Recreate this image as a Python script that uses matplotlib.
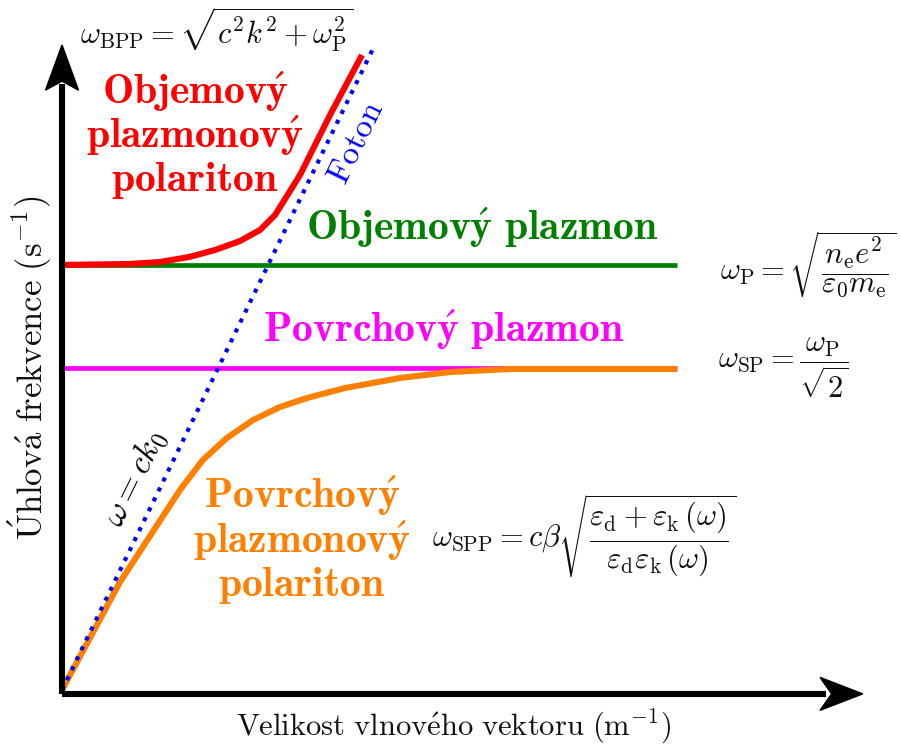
import matplotlib
matplotlib.use("Agg")
import matplotlib.pyplot as plt
from matplotlib.patches import Polygon
import numpy as np

plt.rcParams['mathtext.fontset'] = 'cm'
plt.rcParams['font.family'] = ['DejaVu Serif']

# ---- data (arbitrary units: k in [0,1], omega in [0,1]) ----
omega_p = 0.659          # bulk plasma frequency level
omega_sp = 0.500         # surface plasmon level
k_end = 0.769            # right end of horizontal lines
photon_k = [0.0, 0.391]
photon_w = [0.0, 1.0]
bpp_k = [0.0, 0.085, 0.1225, 0.1588, 0.1913, 0.2225, 0.2475, 0.2663, 0.2975, 0.335, 0.375]
bpp_w = [0.659, 0.6605, 0.6636, 0.6713, 0.6822, 0.6961, 0.7132, 0.7364, 0.7984, 0.8915, 0.9845]
spp_k = [0.0, 0.0725, 0.1475, 0.176, 0.206, 0.2388, 0.2725, 0.3063, 0.3538, 0.4225, 0.485, 0.56, 0.769]
spp_w = [0.0, 0.1674, 0.3101, 0.3566, 0.3907, 0.4186, 0.4388, 0.4527, 0.4682, 0.4837, 0.4930, 0.4977, 0.4977]

W, H = 900, 747
fig = plt.figure(figsize=(W / 100, H / 100), dpi=100)
ax = fig.add_axes([0, 0, 1, 1])
# data origin at pixel (62, 690), (1,1) at pixel (862, 45)
x0, y0, sx, sy = 62, 690, 800, 645
ax.set_xlim(-x0 / sx, (W - x0) / sx)
ax.set_ylim((y0 - H) / sy, y0 / sy)
ax.axis('off')

def P(x, y):
    return (x / W, 1 - y / H)

# axes arrows
ya = -0.006
ax.plot([0, 0], [ya, 0.94], color='black', lw=4.4, solid_capstyle='butt', zorder=5)
ax.plot([0, 0.955], [ya, ya], color='black', lw=4.4, solid_capstyle='butt', zorder=5)
hw_x, hw_y = 16.5 / sx, 16.5 / sy
ax.add_patch(Polygon([(0, 1.0), (hw_x, 0.930), (0, 0.944), (-hw_x, 0.930)],
                     closed=True, color='black', zorder=6))
ax.add_patch(Polygon([(1.001, ya), (0.9475, ya + hw_y), (0.962, ya), (0.9475, ya - hw_y)],
                     closed=True, color='black', zorder=6))

# curves
ax.plot([0, k_end], [omega_p, omega_p], color='#008000', lw=3.4, solid_capstyle='butt', zorder=2)
ax.plot([0, k_end], [omega_sp, omega_sp], color='#ff00ff', lw=3.4, solid_capstyle='butt', zorder=2)
ax.plot(spp_k, spp_w, color='#ff8000', lw=4.4, solid_capstyle='butt', solid_joinstyle='miter', zorder=3)
ax.plot(bpp_k, bpp_w, color='#ff0000', lw=4.4, solid_capstyle='butt', solid_joinstyle='miter', zorder=3)
ax.plot(photon_k, photon_w, color='#0000ff', lw=3.0, ls=':', dash_capstyle='butt', zorder=4)

# labels
fs_big = 30
fig.text(*P(195, 135), '$\\mathbf{Objemov\\acute{y}}$\n$\\mathbf{plazmonov\\acute{y}}$\n$\\mathbf{polariton}$',
         color='#ff0000', fontsize=fs_big, ha='center', va='center', multialignment='center', linespacing=1.0)
fig.text(*P(482, 228), '$\\mathbf{Objemov\\acute{y}\\ plazmon}$', color='#008000', fontsize=fs_big,
         ha='center', va='center')
fig.text(*P(444, 330), '$\\mathbf{Povrchov\\acute{y}\\ plazmon}$', color='#ff00ff', fontsize=fs_big,
         ha='center', va='center')
fig.text(*P(302, 540), '$\\mathbf{Povrchov\\acute{y}}$\n$\\mathbf{plazmonov\\acute{y}}$\n$\\mathbf{polariton}$',
         color='#ff8000', fontsize=fs_big, ha='center', va='center', multialignment='center', linespacing=1.0)

fig.text(*P(356, 143), '$\\mathrm{Foton}$', color='#0000ff', fontsize=24, rotation=64,
         ha='center', va='center')
fig.text(*P(135, 478), '$\\omega = ck_0$', color='black', fontsize=24, rotation=64,
         ha='center', va='center')

fs_m = 22
fig.text(*P(80, 30), '$\\omega_{\\mathrm{BPP}} = \\sqrt{c^2k^2 + \\omega_{\\mathrm{P}}^2}$',
         fontsize=fs_m, ha='left', va='center', color='#111111')
fig.text(*P(720, 265), '$\\omega_{\\mathrm{P}} = \\sqrt{\\dfrac{n_{\\mathrm{e}}e^2}{\\varepsilon_0 m_{\\mathrm{e}}}}$',
         fontsize=fs_m, ha='left', va='center', color='#111111')
fig.text(*P(718, 368), '$\\omega_{\\mathrm{SP}} = \\dfrac{\\omega_{\\mathrm{P}}}{\\sqrt{2}}$',
         fontsize=fs_m, ha='left', va='center', color='#111111')
fig.text(*P(432, 536), '$\\omega_{\\mathrm{SPP}} = c\\beta\\sqrt{\\dfrac{\\varepsilon_{\\mathrm{d}} + \\varepsilon_{\\mathrm{k}}\\,(\\omega)}{\\varepsilon_{\\mathrm{d}}\\varepsilon_{\\mathrm{k}}\\,(\\omega)}}$',
         fontsize=fs_m, ha='left', va='center', color='#111111')

fig.text(*P(453, 727), '$\\mathrm{Velikost\\ vlnov\\acute{e}ho\\ vektoru\\ (m^{-1})}$',
         fontsize=22, ha='center', va='center', color='#111111')
fig.text(*P(30, 368), '$\\mathrm{\\acute{U}hlov\\acute{a}\\ frekvence\\ (s^{-1})}$',
         fontsize=25, ha='center', va='center', rotation=90, color='#111111')

fig.savefig('out.png', dpi=100)
